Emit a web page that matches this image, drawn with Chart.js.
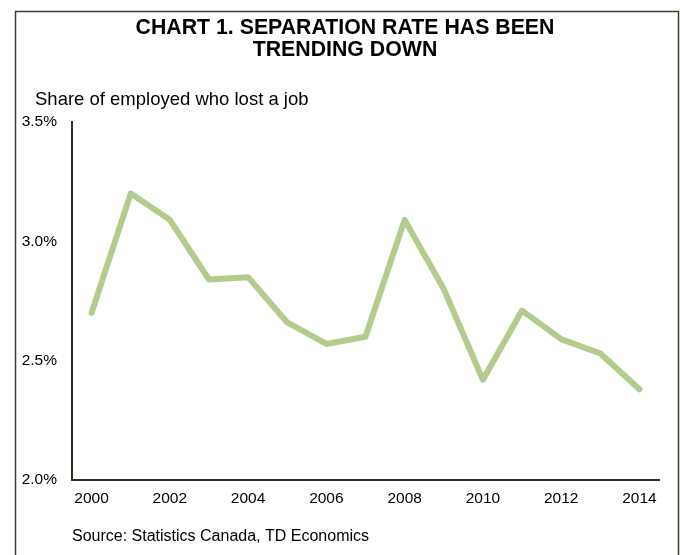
<!DOCTYPE html>
<html>
<head>
<meta charset="utf-8">
<script src="https://cdn.jsdelivr.net/npm/chart.js@4"></script>
<style>
  html, body { margin: 0; padding: 0; background: #fff; }
  #wrap { width: 680px; height: 555px; position: relative; }
</style>
</head>
<body>
<div id="wrap"><canvas id="myChart"></canvas></div>
<script>
const years = ['2000','2001','2002','2003','2004','2005','2006','2007','2008','2009','2010','2011','2012','2013','2014'];
const separationRate = [2.70, 3.20, 3.09, 2.84, 2.85, 2.66, 2.57, 2.60, 3.09, 2.80, 2.42, 2.71, 2.59, 2.53, 2.38];
const yTicks = [2.0, 2.5, 3.0, 3.5];
const titleLines = ['CHART 1. SEPARATION RATE HAS BEEN', 'TRENDING DOWN'];
const subtitleText = 'Share of employed who lost a job';
const sourceText = 'Source: Statistics Canada, TD Economics';

const FONT = "'Liberation Sans', Arial, sans-serif";
const AXIS_COLOR = '#2b2f1e';

// cadre, titre, sous-titre et source
const textPlugin = {
  id: 'frameAndTexts',
  afterDraw(chart) {
    const ctx = chart.ctx;
    ctx.save();
    ctx.strokeStyle = '#3a3f2a';
    ctx.lineWidth = 1.5;
    ctx.beginPath();
    ctx.moveTo(15.5, 560);
    ctx.lineTo(15.5, 11.5);
    ctx.lineTo(678.5, 11.5);
    ctx.lineTo(678.5, 560);
    ctx.stroke();

    ctx.fillStyle = '#000';
    ctx.textBaseline = 'middle';
    ctx.textAlign = 'center';
    ctx.font = 'bold 21.3px ' + FONT;
    titleLines.forEach((line, i) => ctx.fillText(line, 345, 28.5 + i * 22));

    ctx.textAlign = 'left';
    ctx.font = '18.5px ' + FONT;
    ctx.fillText(subtitleText, 35, 100);

    ctx.font = '16px ' + FONT;
    ctx.fillText(sourceText, 72, 537);
    ctx.restore();
  }
};

const ctxt = document.getElementById('myChart').getContext('2d');

const myChart = new Chart(ctxt, {
  type: 'line',
  data: {
    labels: years,
    datasets: [{
      label: 'Separation rate',
      data: separationRate,
      borderColor: '#b3cb8d',
      borderWidth: 6,
      borderCapStyle: 'round',
      borderJoinStyle: 'round',
      pointRadius: 0,
      tension: 0,
      fill: false
    }]
  },
  options: {
    responsive: true,
    maintainAspectRatio: false,
    animation: false,
    layout: { padding: { top: 122, left: 0, right: 21, bottom: 0 } },
    plugins: {
      legend: { display: false },
      tooltip: { enabled: false },
      title: { display: false }
    },
    scales: {
      x: {
        offset: true,
        grid: { display: false, drawTicks: false },
        border: { display: true, color: AXIS_COLOR, width: 2 },
        ticks: {
          color: '#000',
          font: { family: FONT, size: 15.5 },
          padding: 9,
          autoSkip: false,
          maxRotation: 0,
          callback: (v, i) => (i % 2 === 0 ? years[i] : '')
        },
        afterFit: (scale) => { scale.height = 75; }
      },
      y: {
        min: 2.0,
        max: 3.5,
        grid: { display: false, drawTicks: false },
        border: { display: true, color: AXIS_COLOR, width: 2 },
        afterBuildTicks: (scale) => { scale.ticks = yTicks.map(v => ({ value: v })); },
        ticks: {
          color: '#000',
          font: { family: FONT, size: 15.5 },
          padding: 15,
          callback: (v) => Number(v).toFixed(1) + '%'
        },
        afterFit: (scale) => { scale.width = 72; }
      }
    }
  },
  plugins: [textPlugin]
});
</script>
</body>
</html>
